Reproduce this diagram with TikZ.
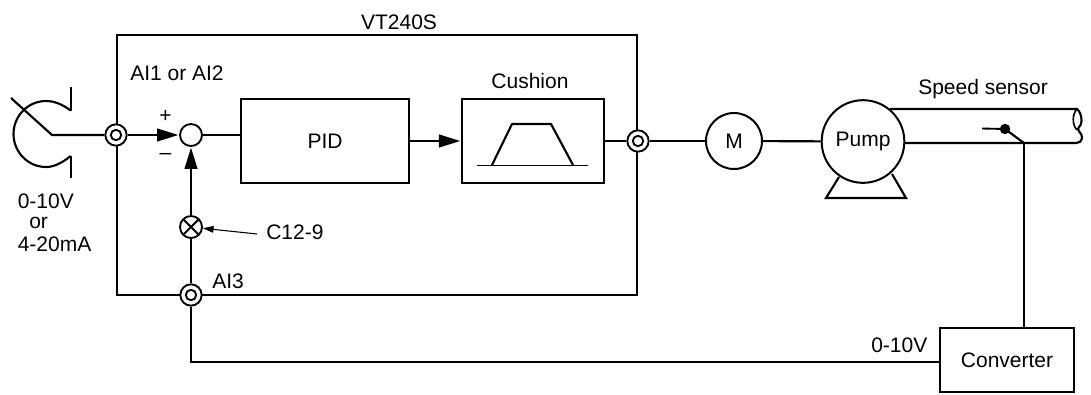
\documentclass[tikz,border=0pt]{standalone}
\usepackage{fontspec}
\setmainfont{Liberation Sans}
\usetikzlibrary{arrows.meta,calc}
\tikzset{
  x=0.75pt,y=-0.75pt,
  every node/.style={font=\fontsize{15.75pt}{18pt}\selectfont},
  wire/.style={line width=1.6pt},
  flow/.style={wire,-{Triangle[length=16pt,width=9.5pt]},shorten >=0.5pt},
  leader/.style={line width=0.8pt,-{Triangle[length=8pt,width=5pt]}},
  blockbox/.style={draw,line width=1.6pt,fill=white,inner sep=0pt},
  joint/.style={circle,draw,line width=1.4pt,fill=white,inner sep=0pt},
  term/.style={joint,minimum size=16pt,path picture={\draw[line width=1.4pt] (path picture bounding box.center) circle (3.9pt);}},
  lab/.style={inner sep=0pt},
}
\begin{document}
\begin{tikzpicture}
\useasboundingbox (0,0) rectangle (1091,394);
% drive enclosure
\node[blockbox,fill=none,minimum width=390.5pt,minimum height=194.5pt] (drive) at (377,165) {};
\node[lab] (vt) at (399,22) {VT240S};
% terminals
\node[term] (t1) at (116,135) {};
\node[term] (t2) at (638,141) {};
\node[term] (t3) at (191,295) {};
% blocks
\node[joint,minimum size=16.5pt] (sum) at (191,135) {};
\node[joint,minimum size=16.5pt,path picture={
  \draw[line width=1.4pt] (path picture bounding box.south west)--(path picture bounding box.north east)
  (path picture bounding box.north west)--(path picture bounding box.south east);}] (mul) at (191,227) {};
\node[blockbox,minimum width=126pt,minimum height=63pt] (pid) at (325,141) {PID};
\node[blockbox,minimum width=106.5pt,minimum height=63pt] (cush) at (533,141) {};
\node[circle,draw,line width=1.5pt,inner sep=0pt,minimum size=42pt] (m) at (734,141) {M};
\node[circle,draw,line width=1.5pt,inner sep=0pt,minimum size=62pt] (pump) at (863,141.5) {Pump};
\node[blockbox,minimum width=100.5pt,minimum height=48pt] (conv) at (1007,360) {Converter};
% cushion ramp
\draw[line width=1.2pt] (477,165.5) -- (588,165.5);
\draw[wire,line join=round] (492,165) -- (512,124) -- (551,124) -- (573,165);
% source
\coordinate (srcpt) at (52,135);
\coordinate (srcend) at (11,98);
\draw[wire,line cap=butt] (70.7,87) -- (70.7,110.6);
\draw[wire] (70.7,178) -- (70.7,156);
\draw[wire] (70.7,110.6) .. controls (62,104) and (54,101) .. (46,101) .. controls (28,101) and (13.5,116) .. (13.5,134) .. controls (13.5,152) and (28,167) .. (46,167) .. controls (54,167) and (62,163) .. (70.7,156);
\draw[wire] (srcend) -- (srcpt) -- (t1);
% connectors
\draw[flow] (t1) -- (sum);
\draw[flow] (mul) -- (sum);
\draw[wire] (t3) -- (mul);
\draw[wire] (sum) -- (sum -| pid.west);
\draw[flow] (pid) -- (cush);
\draw[wire] (cush) -- (t2);
\draw[wire] (t2) -- (m);
\draw[wire] (m) -- (pump);
% pump feet
\draw[wire,line join=miter] (839,177) -- (826,198) -- (906,198) -- (892,174);
% pipe
\coordinate (pipeA) at (890,109);
\coordinate (pipeB) at (905,143);
\coordinate (sj) at (1024,143);
\coordinate (sdot) at (1005,129);
\coordinate (sfree) at (982,128.5);
\draw[wire] (pipeA) -- (1077,109) .. controls (1082,113) and (1083,124) .. (1079,127) .. controls (1075,130) and (1083,133) .. (1082,138) .. controls (1081,142) and (1079,143) .. (1076,143) -- (pipeB);
\draw[line width=1.2pt] (1077,109) .. controls (1072,114) and (1072,125) .. (1077,130);
% sensor
\fill (sdot) circle (3.9pt);
\draw[line width=1.4pt] (sfree) -- (sdot);
\draw[wire] (sdot) -- (sj);
\draw[wire] (sj) -- (sj |- conv.north);
% feedback
\coordinate (convin) at (conv.west |- 0,362);
\draw[wire] (t3) |- (convin);
% leader
\coordinate (cfree) at (257,234);
\draw[leader] (cfree) -- (mul);
% labels
\node[lab,anchor=west] (ai) at (130,73) {AI1 or AI2};
\node[lab] (plus) at (165.5,116) {+};
\node[lab] (minus) at (165.5,156) {\char"2013};
\node[lab] (cu) at (530,81) {Cushion};
\node[lab,anchor=west] (cl) at (266,232) {C12-9};
\node[lab,anchor=west] (ai3) at (212,281) {AI3};
\node[lab,anchor=west] (v1) at (17.5,201) {0-10V};
\node[lab,anchor=west] (or) at (29,223) {or};
\node[lab,anchor=west] (v2) at (17.5,244) {4-20mA};
\node[lab,anchor=west] (ss) at (918,89) {Speed sensor};
\node[lab,anchor=west] (v3) at (871,345) {0-10V};
\end{tikzpicture}
\end{document}
